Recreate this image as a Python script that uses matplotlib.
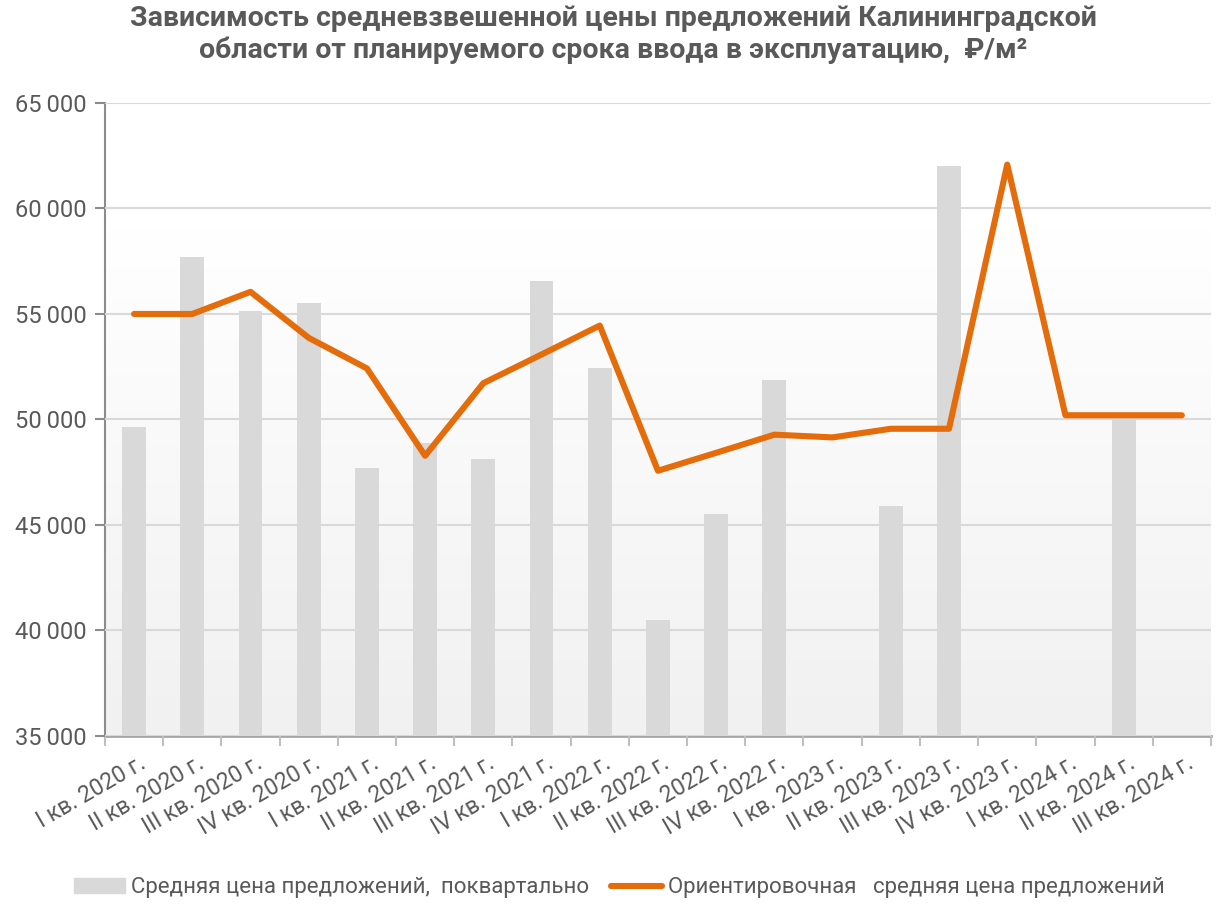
import numpy as np
import matplotlib.pyplot as plt
from matplotlib.patches import Patch
from matplotlib.lines import Line2D
from matplotlib.transforms import ScaledTranslation

plt.rcParams['font.family'] = ['Roboto', 'DejaVu Sans']

quarters = ['I кв. 2020 г.', 'II кв. 2020 г.', 'III кв. 2020 г.', 'IV кв. 2020 г.',
            'I кв. 2021 г.', 'II кв. 2021 г.', 'III кв. 2021 г.', 'IV кв. 2021 г.',
            'I кв. 2022 г.', 'II кв. 2022 г.', 'III кв. 2022 г.', 'IV кв. 2022 г.',
            'I кв. 2023 г.', 'II кв. 2023 г.', 'III кв. 2023 г.', 'IV кв. 2023 г.',
            'I кв. 2024 г.', 'II кв. 2024 г.', 'III кв. 2024 г.']

# средняя цена поквартально (пусто там, где столбца нет)
quarterly = [49650, 57720, 55120, 55500, 47700, 48880, 48150, 56550,
             52450, 40480, 45520, 51850, np.nan, 45900, 62000, np.nan,
             np.nan, 50080, np.nan]

# ориентировочная средняя цена
estimate = [55000, 55000, 56050, 53870, 52420, 48280, 51720, 53080,
            54450, 47570, 48420, 49280, 49150, 49560, 49560, 62080,
            50200, 50200, 50200]

yticks = [35000, 40000, 45000, 50000, 55000, 60000, 65000]

title = ('Зависимость средневзвешенной цены предложений Калининградской\n'
         'области от планируемого срока ввода в эксплуатацию,  ₽/м²')

gray_txt = '#595959'
orange = '#E46C0A'
bar_col = '#D9D9D9'

fig = plt.figure(figsize=(12.19, 9.21), dpi=100)
ax = fig.add_axes([0.0861, 0.2009, 0.9073, 0.6873])

x = np.arange(len(quarters))

# фон с лёгким градиентом
grad = np.linspace(1.0, 0.0, 256).reshape(-1, 1)
grad = np.clip(grad * 1.25, 0, 1)
ax.imshow(grad, extent=[0, 1, 0, 1], transform=ax.transAxes, aspect='auto',
          cmap=plt.matplotlib.colors.LinearSegmentedColormap.from_list('bg', ['#F1F1F1', '#FFFFFF']),
          zorder=0)

ax.bar(x, quarterly, width=0.41, color=bar_col, zorder=2)
ax.plot(x, estimate, color=orange, lw=4.4, solid_capstyle='round',
        solid_joinstyle='round', zorder=3)

ax.set_xlim(-0.5, len(quarters) - 0.5)
ax.set_ylim(35000, 65000)
ax.set_yticks(yticks)
ax.set_yticklabels([f'{v // 1000}\u2009000' for v in yticks])
ax.yaxis.grid(True, color='#D9D9D9', lw=1.5, zorder=1)
ax.set_axisbelow(False)

ax.set_xticks(np.arange(-0.5, len(quarters)), labels=[])
ax.set_xticks(x, labels=quarters, minor=True)
ax.tick_params(axis='x', which='major', length=7, width=1.5, color='#BFBFBF')
ax.tick_params(axis='x', which='minor', length=0, pad=11, labelsize=16.5, labelcolor=gray_txt)
ax.tick_params(axis='y', length=7, width=1.5, color='#8C8C8C', labelsize=17,
               labelcolor=gray_txt, pad=6)
shift = ScaledTranslation(4 / 100, 0, fig.dpi_scale_trans)
for lab in ax.get_xticklabels(minor=True):
    lab.set_rotation(30)
    lab.set_ha('right')
    lab.set_va('top')
    lab.set_rotation_mode('anchor')
    lab.set_transform(lab.get_transform() + shift)

for s in ['top', 'right']:
    ax.spines[s].set_visible(False)
ax.spines['left'].set_color('#8C8C8C')
ax.spines['left'].set_linewidth(1.5)
ax.spines['bottom'].set_color('#A6A6A6')
ax.spines['bottom'].set_linewidth(2)

fig.text(0.503, 0.995, title, ha='center', va='top', fontsize=20.5,
         fontweight='bold', color=gray_txt, linespacing=1.22)

handles = [Patch(color=bar_col), Line2D([], [], color=orange, lw=4.4, solid_capstyle='round')]
fig.legend(handles, ['Средняя цена предложений,  поквартально',
                     'Ориентировочная   средняя цена предложений'],
           loc='center', bbox_to_anchor=(0.508, 0.036), ncol=2, frameon=False,
           fontsize=16, labelcolor=gray_txt,
           handlelength=2.3, handleheight=0.6, handletextpad=0.25, columnspacing=1.0)

fig.savefig('out.png', dpi=100)
